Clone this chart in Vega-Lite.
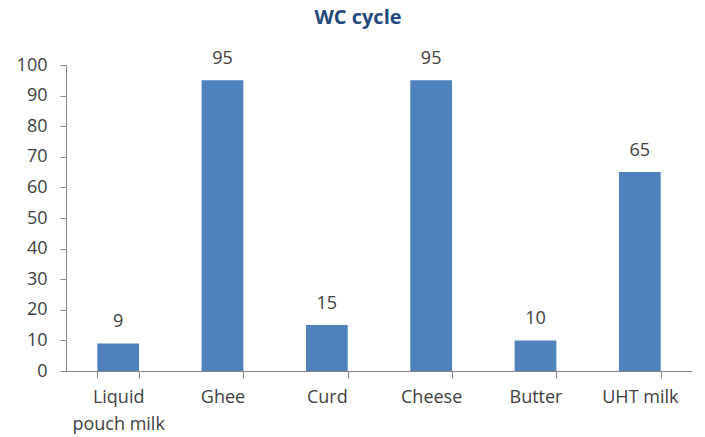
{
  "$schema": "https://vega.github.io/schema/vega-lite/v6.json",
  "autosize": "none",
  "width": 626,
  "height": 306,
  "padding": {"left": 66, "top": 65, "right": 13, "bottom": 66},
  "background": "white",
  "title": {"text": "WC cycle", "font": "Open Sans", "fontSize": 20, "fontWeight": "bold", "color": "#1F497D", "anchor": "middle", "dx": -21, "offset": 22},
  "data": {"values": [
    {"product": "Liquid pouch milk", "value": 9},
    {"product": "Ghee", "value": 95},
    {"product": "Curd", "value": 15},
    {"product": "Cheese", "value": 95},
    {"product": "Butter", "value": 10},
    {"product": "UHT milk", "value": 65}
  ]},
  "encoding": {
    "x": {"field": "product", "type": "nominal", "sort": null,
      "scale": {"paddingInner": 0.6, "paddingOuter": 0.3},
      "axis": {"title": null, "labelAngle": 0, "tickBand": "extent", "domainColor": "#868686", "tickColor": "#868686", "tickSize": 7, "labelFont": "Open Sans", "labelFontSize": 18, "labelColor": "#404040", "labelPadding": 10, "labelLineHeight": 27,
        "labelExpr": "datum.label == 'Liquid pouch milk' ? ['Liquid', 'pouch milk'] : datum.label"}},
    "y": {"field": "value", "type": "quantitative",
      "scale": {"domain": [0, 100]},
      "axis": {"title": null, "values": [0,10,20,30,40,50,60,70,80,90,100], "grid": false, "domainColor": "#868686", "tickColor": "#868686", "tickSize": 6, "labelFont": "Open Sans", "labelFontSize": 18, "labelColor": "#404040", "labelPadding": 13}}
  },
  "layer": [
    {"mark": {"type": "bar", "color": "#4F81BD"}},
    {"mark": {"type": "text", "baseline": "bottom", "dy": -12, "font": "Open Sans", "fontSize": 18, "color": "#404040"},
     "encoding": {"text": {"field": "value", "type": "quantitative"}}}
  ],
  "config": {"view": {"stroke": null}}
}
